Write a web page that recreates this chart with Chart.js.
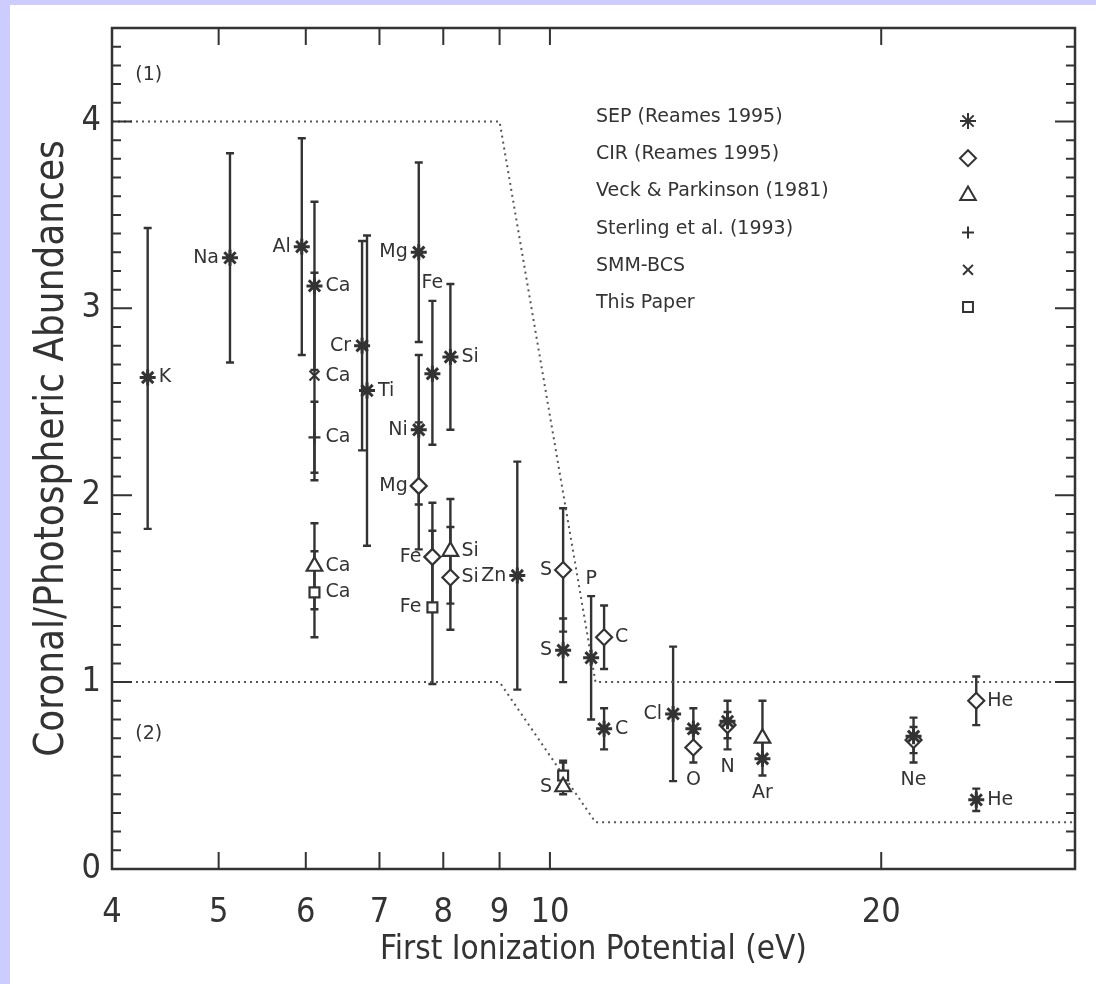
<!DOCTYPE html>
<html>
<head>
<meta charset="utf-8">
<script src="https://cdn.jsdelivr.net/npm/chart.js@4.4.0/dist/chart.umd.min.js"></script>
<style>
  html, body { margin: 0; padding: 0; background: #fff; }
  canvas { display: block; }
</style>
</head>
<body>
<canvas id="fipChart" width="1096" height="984"></canvas>
<script>
// SEP (Reames 1995)
var sepNames = ['K', 'Na', 'Al', 'Ca', 'Cr', 'Ti', 'Mg', 'Ni', 'Fe', 'Si', 'Zn', 'S', 'P', 'C', 'Cl', 'O', 'N', 'Ar', 'Ne', 'He'];
var sepFip   = [4.31, 5.12, 5.95, 6.11, 6.75, 6.82, 7.60, 7.60, 7.82, 8.12, 9.34, 10.28, 10.9, 11.2, 12.94, 13.5, 14.5, 15.6, 21.4, 24.4];
var sepVal   = [2.63, 3.27, 3.33, 3.12, 2.80, 2.56, 3.30, 2.35, 2.65, 2.74, 1.57, 1.17, 1.13, 0.75, 0.83, 0.75, 0.79, 0.59, 0.71, 0.37];
var sepLo    = [1.82, 2.71, 2.75, 2.67, 2.24, 1.73, 2.82, 1.95, 2.27, 2.35, 0.96, 1.00, 0.80, 0.64, 0.47, 0.65, 0.64, 0.50, 0.57, 0.31];
var sepHi    = [3.43, 3.83, 3.91, 3.57, 3.36, 3.39, 3.78, 2.75, 3.04, 3.13, 2.18, 1.34, 1.46, 0.86, 1.19, 0.86, 0.90, 0.68, 0.81, 0.43];
var sepSide  = ['r', 'l', 'l', 'r', 'l', 'r', 'l', 'l', 'a', 'r', 'l', 'l', 'a', 'r', 'l', '', 'b', 'b', 'b', 'r'];

// CIR (Reames 1995)
var cirNames = ['Mg', 'Fe', 'Si', 'S', 'C', 'O', 'N', 'Ne', 'He'];
var cirFip   = [7.60, 7.82, 8.12, 10.28, 11.2, 13.5, 14.5, 21.4, 24.4];
var cirVal   = [2.05, 1.67, 1.56, 1.60, 1.24, 0.65, 0.77, 0.69, 0.90];
var cirLo    = [1.71, 1.38, 1.28, 1.27, 1.07, 0.57, 0.70, 0.62, 0.77];
var cirHi    = [2.39, 1.96, 1.83, 1.93, 1.41, 0.73, 0.84, 0.76, 1.03];
var cirSide  = ['l', 'l', 'r', 'l', 'r', 'b', '', '', 'r'];

// Veck & Parkinson (1981)
var veckNames = ['Ca', 'Si', 'S', 'Ar'];
var veckFip   = [6.11, 8.12, 10.28, 15.6];
var veckVal   = [1.62, 1.70, 0.44, 0.70];
var veckLo    = [1.39, 1.42, 0.40, 0.59];
var veckHi    = [1.85, 1.98, 0.58, 0.90];
var veckSide  = ['r', 'r', 'l', ''];

// Sterling et al. (1993)
var sterNames = ['Ca'];
var sterFip   = [6.11];
var sterVal   = [2.31];
var sterLo    = [2.12];
var sterHi    = [2.50];
var sterSide  = ['r'];

// SMM-BCS
var bcsNames = ['Ca'];
var bcsFip   = [6.11];
var bcsVal   = [2.64];
var bcsLo    = [2.08];
var bcsHi    = [3.19];
var bcsSide  = ['r'];

// This Paper
var paperNames = ['Ca', 'Fe', 'S'];
var paperFip   = [6.11, 7.82, 10.28];
var paperVal   = [1.48, 1.40, 0.50];
var paperLo    = [1.24, 0.99, 0.43];
var paperHi    = [1.70, 1.81, 0.57];
var paperSide  = ['r', 'l', ''];

// FIP boundaries of the enhancement region (1) and (2)
var upperFip = [4, 9, 11, 30];
var upperVal = [4, 4, 1, 1];
var lowerFip = [4, 9, 11, 30];
var lowerVal = [1, 1, 0.25, 0.25];

var xTickValues = [4, 5, 6, 7, 8, 9, 10, 20];
var yTickValues = [0, 1, 2, 3, 4];

var INK = '#333';
var TXT = '#333';
var FONT = '"DejaVu Sans", "Liberation Sans", sans-serif';
var AXFONT = '"DejaVu Sans Condensed", "Liberation Sans Narrow", "DejaVu Sans", sans-serif';

var series = [
  { label: 'SEP (Reames 1995)',          style: 'star',     r: 8, names: sepNames,   fip: sepFip,   val: sepVal,   lo: sepLo,   hi: sepHi,   side: sepSide },
  { label: 'CIR (Reames 1995)',          style: 'rectRot',  r: 8, names: cirNames,   fip: cirFip,   val: cirVal,   lo: cirLo,   hi: cirHi,   side: cirSide },
  { label: 'Veck & Parkinson (1981)',    style: 'triangle', r: 9, names: veckNames,  fip: veckFip,  val: veckVal,  lo: veckLo,  hi: veckHi,  side: veckSide },
  { label: 'Sterling et al. (1993)',     style: 'cross',    r: 6, names: sterNames,  fip: sterFip,  val: sterVal,  lo: sterLo,  hi: sterHi,  side: sterSide },
  { label: 'SMM-BCS',                    style: 'crossRot', r: 7, names: bcsNames,   fip: bcsFip,   val: bcsVal,   lo: bcsLo,   hi: bcsHi,   side: bcsSide },
  { label: 'This Paper',                 style: 'rect',     r: 7, names: paperNames, fip: paperFip, val: paperVal, lo: paperLo, hi: paperHi, side: paperSide }
];

function toPoints(xs, ys) {
  return xs.map(function(x, i) { return { x: x, y: ys[i] }; });
}

var datasets = series.map(function(s) {
  return {
    type: 'scatter',
    label: s.label,
    data: toPoints(s.fip, s.val),
    pointStyle: s.style,
    pointRadius: s.r,
    pointBorderWidth: s.style === 'star' ? 3 : 2.2,
    pointBorderColor: INK,
    pointBackgroundColor: '#fff',
    showLine: false
  };
});

[[upperFip, upperVal], [lowerFip, lowerVal]].forEach(function(b) {
  datasets.push({
    type: 'line',
    data: toPoints(b[0], b[1]),
    borderColor: '#555',
    borderWidth: 2,
    borderDash: [2, 4],
    pointRadius: 0,
    fill: false,
    tension: 0
  });
});

var pagePlugin = {
  id: 'page',
  beforeDraw: function(chart) {
    var ctx = chart.ctx;
    ctx.save();
    ctx.fillStyle = '#ccccff';
    ctx.fillRect(0, 0, chart.width, chart.height);
    ctx.fillStyle = '#fff';
    ctx.fillRect(10, 5, chart.width - 10, chart.height - 5);
    ctx.restore();
  }
};

// vertical error bars with small caps, drawn under the markers
var errorBarPlugin = {
  id: 'errorBars',
  beforeDatasetsDraw: function(chart) {
    var ctx = chart.ctx, xs = chart.scales.x, ys = chart.scales.y;
    ctx.save();
    ctx.strokeStyle = INK;
    ctx.lineWidth = 2.4;
    series.forEach(function(s) {
      s.fip.forEach(function(f, i) {
        var px = xs.getPixelForValue(f);
        var top = ys.getPixelForValue(s.hi[i]);
        var bot = ys.getPixelForValue(s.lo[i]);
        ctx.beginPath();
        ctx.moveTo(px, top); ctx.lineTo(px, bot);
        ctx.moveTo(px - 4, top); ctx.lineTo(px + 4, top);
        ctx.moveTo(px - 4, bot); ctx.lineTo(px + 4, bot);
        ctx.stroke();
      });
    });
    ctx.restore();
  }
};

var annotatePlugin = {
  id: 'annotate',
  afterDraw: function(chart) {
    var ctx = chart.ctx, xs = chart.scales.x, ys = chart.scales.y, a = chart.chartArea;
    ctx.save();

    // element names next to the points
    ctx.fillStyle = TXT;
    ctx.font = '19px ' + FONT;
    series.forEach(function(s) {
      s.names.forEach(function(n, i) {
        var side = s.side[i];
        if (!side) return;
        var px = xs.getPixelForValue(s.fip[i]);
        var py = ys.getPixelForValue(s.val[i]);
        if (side === 'l') {
          ctx.textAlign = 'right'; ctx.textBaseline = 'middle';
          ctx.fillText(n, px - 11, py);
        } else if (side === 'r') {
          ctx.textAlign = 'left'; ctx.textBaseline = 'middle';
          ctx.fillText(n, px + 11, py);
        } else if (side === 'a') {
          ctx.textAlign = 'center'; ctx.textBaseline = 'bottom';
          ctx.fillText(n, px, ys.getPixelForValue(s.hi[i]) - 8);
        } else if (side === 'b') {
          ctx.textAlign = 'center'; ctx.textBaseline = 'top';
          ctx.fillText(n, px, ys.getPixelForValue(s.lo[i]) + 8);
        }
      });
    });

    // region markers
    ctx.textAlign = 'center'; ctx.textBaseline = 'middle';
    ctx.fillText('(1)', xs.getPixelForValue(4.32), ys.getPixelForValue(4.25));
    ctx.fillText('(2)', xs.getPixelForValue(4.32), ys.getPixelForValue(0.72));

    // legend: text on the left, symbol on the right
    ctx.textAlign = 'left';
    series.forEach(function(s, i) {
      var y = 117 + i * 37.2;
      ctx.fillStyle = TXT;
      ctx.fillText(s.label, 596, y);
      ctx.strokeStyle = INK;
      ctx.fillStyle = '#fff';
      ctx.lineWidth = 2;
      Chart.helpers.drawPoint(ctx, { pointStyle: s.style, radius: s.r, borderWidth: s.style === 'star' ? 3 : 2, rotation: 0 }, 968, y + 4);
    });

    // frame and inward ticks
    ctx.strokeStyle = INK;
    ctx.lineWidth = 2.5;
    ctx.strokeRect(a.left, a.top, a.right - a.left, a.bottom - a.top);
    ctx.lineWidth = 2;
    ctx.beginPath();
    for (var k = 0; k <= 45; k++) {
      var ty = ys.getPixelForValue(k / 10);
      var len = k % 10 === 0 ? 20 : 9;
      ctx.moveTo(a.left, ty); ctx.lineTo(a.left + len, ty);
      ctx.moveTo(a.right, ty); ctx.lineTo(a.right - len, ty);
    }
    xTickValues.forEach(function(v) {
      var tx = xs.getPixelForValue(v);
      ctx.moveTo(tx, a.bottom); ctx.lineTo(tx, a.bottom - 17);
      ctx.moveTo(tx, a.top); ctx.lineTo(tx, a.top + 17);
    });
    ctx.stroke();

    // axis titles
    ctx.fillStyle = TXT;
    ctx.textAlign = 'center'; ctx.textBaseline = 'middle';
    ctx.font = '33px ' + AXFONT;
    ctx.fillText('First Ionization Potential (eV)', (a.left + a.right) / 2, 950);
    ctx.font = '40px ' + AXFONT;
    ctx.translate(53, (a.top + a.bottom) / 2);
    ctx.rotate(-Math.PI / 2);
    ctx.fillText('Coronal/Photospheric Abundances', 0, 0);
    ctx.restore();
  }
};

new Chart(document.getElementById('fipChart'), {
  data: { datasets: datasets },
  options: {
    responsive: false,
    animation: false,
    layout: { padding: { left: 0, top: 20, right: 21, bottom: 0 } },
    plugins: { legend: { display: false }, tooltip: { enabled: false } },
    scales: {
      x: {
        type: 'logarithmic',
        min: 4,
        max: 30,
        afterBuildTicks: function(scale) {
          scale.ticks = xTickValues.map(function(v) { return { value: v }; });
        },
        afterFit: function(scale) { scale.height = 115; },
        grid: { display: false, drawTicks: false },
        border: { display: false },
        ticks: {
          color: TXT,
          padding: 24,
          autoSkip: false,
          maxRotation: 0,
          font: { family: AXFONT, size: 34 },
          callback: function(v) { return String(v); }
        }
      },
      y: {
        min: 0,
        max: 4.5,
        afterBuildTicks: function(scale) {
          scale.ticks = yTickValues.map(function(v) { return { value: v }; });
        },
        afterFit: function(scale) { scale.width = 112; },
        grid: { display: false, drawTicks: false },
        border: { display: false },
        ticks: {
          color: TXT,
          padding: 11,
          font: { family: AXFONT, size: 34, lineHeight: 1 },
          callback: function(v) { return String(v); }
        }
      }
    }
  },
  plugins: [pagePlugin, errorBarPlugin, annotatePlugin]
});
</script>
</body>
</html>
